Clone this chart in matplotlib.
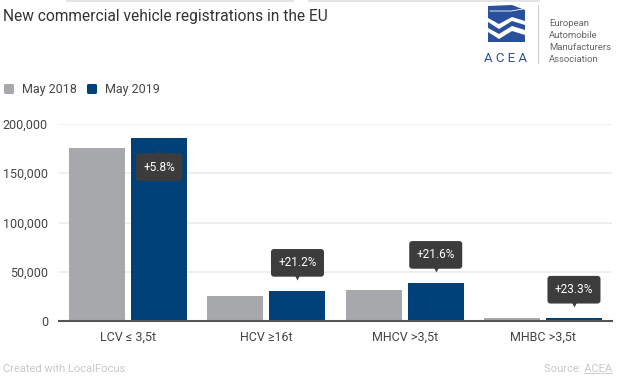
import matplotlib.pyplot as plt
import numpy as np
from matplotlib.patches import Polygon, FancyBboxPatch, Rectangle
from matplotlib.transforms import IdentityTransform, offset_copy

categories = ['LCV ≤ 3,5t', 'HCV ≥16t', 'MHCV >3,5t', 'MHBC >3,5t']
may_2018 = [175500, 25200, 31800, 2700]
may_2019 = [185700, 30600, 38700, 3330]
changes = ['+5.8%', '+21.2%', '+21.6%', '+23.3%']
yticks = [0, 50000, 100000, 150000, 200000]
series_names = ['May 2018', 'May 2019']

grey = '#a7a8ac'
blue = '#00417a'
tip_col = '#3c3c3c'

plt.rcParams['font.family'] = ['Roboto', 'DejaVu Sans']

W, H = 630, 390
fig = plt.figure(figsize=(6.3, 3.9), dpi=100)
ax = fig.add_axes([59 / W, 1 - 321 / H, (612 - 59) / W, (321 - 124) / H])

# pixel coords measured from top-left
def P(x, y):
    return (x, H - y)

x = np.arange(len(categories))
bw = 0.405
off = 0.225
ax.bar(x - off, may_2018, bw, color=grey, zorder=2)
ax.bar(x + off, may_2019, bw, color=blue, zorder=2)

ax.set_xlim(-0.5, len(categories) - 0.5)
ax.set_ylim(0, 200000)
ax.set_yticks(yticks)
ax.set_yticklabels(['{:,}'.format(v) for v in yticks])
ax.set_xticks(x)
ax.set_xticklabels(categories)
ax.tick_params(axis='both', length=0, labelsize=9, labelcolor='#444444')
ax.tick_params(axis='y', pad=8)
ax.tick_params(axis='x', pad=7)
for s in ['top', 'right', 'left']:
    ax.spines[s].set_visible(False)
ax.spines['bottom'].set_color('#555555')
ax.spines['bottom'].set_linewidth(1.5)
ax.spines['bottom'].set_zorder(3)
ax.grid(axis='y', color='#ebebeb', linewidth=1.2, zorder=0)
ax.set_axisbelow(True)

# change labels (tooltip boxes)
box = dict(boxstyle='round,pad=0.62,rounding_size=0.25', fc=tip_col, ec='none')
for i, (v, txt) in enumerate(zip(may_2019, changes)):
    xi = x[i] + off
    if i == 0:
        # inside the bar, pointer up
        ax.annotate(txt, xy=(xi, v), xytext=(0, -29), textcoords='offset pixels',
                    ha='center', va='center', color='white', fontsize=8.5, bbox=box,
                    zorder=5)
        tr = offset_copy(ax.transData, fig=fig, x=0, y=-15, units='dots')
        ax.plot([xi], [v], marker='^', ms=6, color=tip_col, mec='none', transform=tr, zorder=5)
    else:
        ax.annotate(txt, xy=(xi, v), xytext=(0, 28), textcoords='offset pixels',
                    ha='center', va='center', color='white', fontsize=8.5, bbox=box,
                    zorder=5, annotation_clip=False)
        tr = offset_copy(ax.transData, fig=fig, x=0, y=15, units='dots')
        ax.plot([xi], [v], marker='v', ms=6, color=tip_col, mec='none', transform=tr,
                zorder=5, clip_on=False)

# title
fig.text(3 / W, 1 - 16 / H, 'New commercial vehicle registrations in the EU',
         fontsize=11.2, color='#333333', va='center', ha='left')

# legend
for name, col, xs, xt in zip(series_names, [grey, blue], [4, 87], [22, 105]):
    fig.patches.append(FancyBboxPatch(P(xs, 94), 10, 10, boxstyle='round,pad=0,rounding_size=1.5',
                                      transform=IdentityTransform(), fc=col, ec='none', figure=fig))
    fig.text(xt / W, 1 - 89 / H, name, fontsize=9, color='#444444',
             va='center', ha='left')

# logo
logo_blue = '#2a4f9c'
shapes = [
    [(488, 6), (512, 5), (525, 10), (525, 21), (512, 17), (499, 24), (488, 18)],
    [(488, 22), (499, 29), (512, 21), (525, 25), (525, 30), (512, 26), (499, 34), (488, 28)],
    [(488, 32), (499, 39), (512, 31), (525, 35), (525, 42), (488, 42)],
]
for sh in shapes:
    fig.patches.append(Polygon([P(a, b) for a, b in sh], closed=True,
                               transform=IdentityTransform(), fc=logo_blue, ec='none', figure=fig))
fig.lines.append(plt.Line2D([490, 511, 523], [H - 11, H - 11, H - 9], transform=IdentityTransform(),
                            color='white', linewidth=0.6, figure=fig))
fig.text(506 / W, 1 - 58 / H, 'A C E A', fontsize=9.5, color=logo_blue, ha='center', va='center')
fig.lines.append(plt.Line2D([538, 538], [H - 5, H - 63], transform=IdentityTransform(),
                            color='#cccccc', linewidth=0.8, figure=fig))
for k, line in enumerate(['European', 'Automobile', 'Manufacturers', 'Association']):
    fig.text(549 / W, 1 - (23 + k * 12) / H, line, fontsize=6.8, color='#666666',
             ha='left', va='center', family=['Liberation Sans Narrow', 'Roboto', 'DejaVu Sans'])

# faint card shadows at the very top
for a, b in [(66, 294), (308, 540)]:
    fig.patches.append(Rectangle(P(a, 2), b - a, 2, transform=IdentityTransform(),
                                 fc='#e4e4e4', ec='none', figure=fig))

# footer
fig.text(3 / W, 1 - 369 / H, 'Created with LocalFocus', fontsize=8, color='#c8c8c8',
         ha='left', va='center')
src = fig.text(612 / W, 1 - 369 / H, 'Source: ACEA', fontsize=8, color='#c8c8c8',
               ha='right', va='center')
tmp = fig.text(0, 0, 'ACEA', fontsize=8)
fig.canvas.draw()
bb = src.get_window_extent()
wa = tmp.get_window_extent().width
tmp.remove()
fig.lines.append(plt.Line2D([bb.x1 - wa, bb.x1], [bb.y0 + 1, bb.y0 + 1], transform=IdentityTransform(),
                            color='#c8c8c8', linewidth=0.6, figure=fig))

fig.savefig('out.png', dpi=100, facecolor='white')
